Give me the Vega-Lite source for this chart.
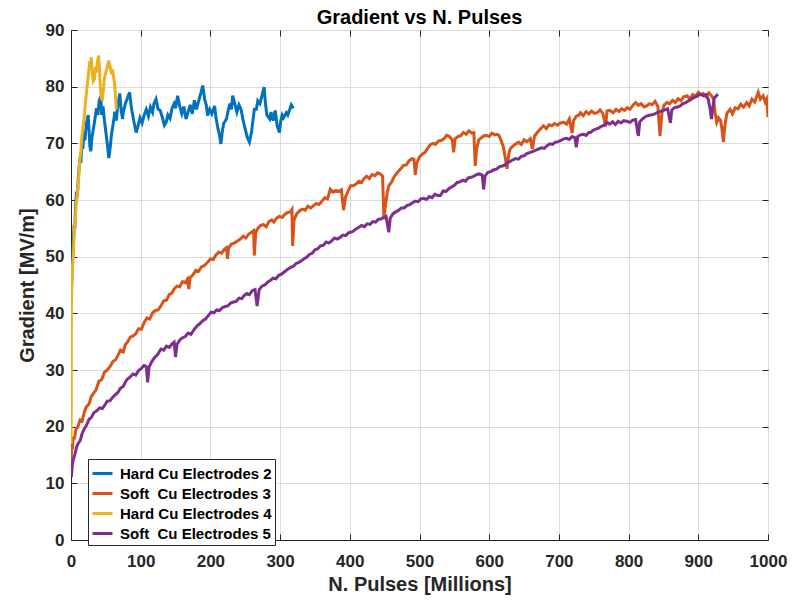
{
  "$schema": "https://vega.github.io/schema/vega-lite/v6.json",
  "width": 697,
  "height": 510,
  "autosize": {"type": "none"},
  "padding": {"left": 71, "top": 30, "right": 34, "bottom": 60},
  "background": "white",
  "title": {"text": "Gradient vs N. Pulses", "fontSize": 20, "font": "Liberation Sans", "fontWeight": "bold", "color": "#000000", "offset": 7, "dy": 14},
  "config": {
    "font": "Liberation Sans",
    "view": {"stroke": "#262626", "strokeWidth": 1},
    "axis": {
      "labelFont": "Liberation Sans", "labelFontSize": 17, "labelFontWeight": "bold", "labelColor": "#262626", "labelFlush": false,
      "titleFont": "Liberation Sans", "titleFontSize": 20, "titleFontWeight": "bold", "titleColor": "#262626",
      "domainColor": "#262626", "tickColor": "#262626", "tickSize": -6, "gridColor": "#dcdcdc", "gridOpacity": 1
    },
    "legend": {
      "orient": "none", "legendX": 17, "legendY": 429, "strokeColor": "#262626", "fillColor": "white",
      "padding": 3, "labelFont": "Liberation Sans", "labelFontSize": 15, "labelFontWeight": "bold", "labelColor": "#000000",
      "symbolType": "stroke", "symbolSize": 400, "symbolStrokeWidth": 3, "rowPadding": 0, "labelOffset": 6, "cornerRadius": 0
    }
  },
  "datasets": {
    "hard2": [
      {"x":0,"y":44},{"x":0.4,"y":45.5},{"x":0.8,"y":44.5},{"x":1.5,"y":48},{"x":2.5,"y":51},{"x":3.5,"y":53},{"x":4.6,"y":55.6},{"x":5.5,"y":55},{"x":6.5,"y":59},{"x":7.9,"y":61.5},{"x":9,"y":60.5},{"x":10.5,"y":64},{"x":12.8,"y":67.4},{"x":14,"y":66.5},{"x":15.6,"y":69.8},{"x":17,"y":69},{"x":18.5,"y":72},{"x":20,"y":70.5},{"x":22,"y":73.5},{"x":24.7,"y":75},{"x":26,"y":72},{"x":27,"y":69.5},{"x":28.4,"y":68.6},{"x":30,"y":71},{"x":32,"y":72.5},{"x":34,"y":74},{"x":36.6,"y":76.2},{"x":38.5,"y":75},{"x":40.5,"y":77.5},{"x":42.8,"y":78.3},{"x":44,"y":75},{"x":46,"y":76.5},{"x":48,"y":74},{"x":50,"y":72},{"x":52,"y":70},{"x":54.3,"y":67.4},{"x":56,"y":69},{"x":58,"y":71.5},{"x":60,"y":73},{"x":63,"y":75.6},{"x":65,"y":74},{"x":67,"y":76.5},{"x":70,"y":78.8},{"x":72,"y":75.8},{"x":74,"y":74.3},{"x":75,"y":75.5},{"x":78,"y":77},{"x":81,"y":78},{"x":84,"y":79},{"x":87,"y":76},{"x":90,"y":74},{"x":93.5,"y":71.9},{"x":96,"y":73},{"x":99,"y":74.5},{"x":102,"y":73.6},{"x":105,"y":75},{"x":108,"y":76},{"x":111,"y":74.8},{"x":114,"y":76.4},{"x":117,"y":75.5},{"x":119,"y":77},{"x":122,"y":77.8},{"x":125,"y":76},{"x":128,"y":75.8},{"x":131,"y":74.6},{"x":134,"y":73.2},{"x":136.5,"y":73.7},{"x":139,"y":75},{"x":142,"y":74.4},{"x":145,"y":76.2},{"x":148,"y":77},{"x":150,"y":76.2},{"x":153,"y":78.4},{"x":156,"y":76.5},{"x":159,"y":75.2},{"x":162,"y":76.5},{"x":165,"y":74.3},{"x":168,"y":75.5},{"x":171,"y":76.8},{"x":174,"y":75.2},{"x":177,"y":77.6},{"x":180,"y":76},{"x":183,"y":77.4},{"x":186,"y":78.7},{"x":189,"y":80.2},{"x":192,"y":77.6},{"x":194,"y":76.8},{"x":196,"y":74.9},{"x":199,"y":76},{"x":202,"y":75.2},{"x":206,"y":76.6},{"x":208,"y":74.5},{"x":211,"y":72.5},{"x":213,"y":71.5},{"x":215,"y":69.9},{"x":217,"y":72},{"x":219,"y":73.5},{"x":223,"y":74.3},{"x":225,"y":75.5},{"x":228,"y":77},{"x":230,"y":76},{"x":232,"y":78.4},{"x":235,"y":77},{"x":238,"y":75.5},{"x":241,"y":76.8},{"x":244,"y":76},{"x":247,"y":74},{"x":250,"y":72.5},{"x":253,"y":71},{"x":256,"y":70.2},{"x":259,"y":72},{"x":261,"y":74},{"x":263,"y":76},{"x":266,"y":76},{"x":268,"y":77.5},{"x":271,"y":77},{"x":274,"y":78.4},{"x":277,"y":79.9},{"x":279,"y":77},{"x":281,"y":75},{"x":285,"y":74.3},{"x":287,"y":75.5},{"x":290,"y":74},{"x":293,"y":75.8},{"x":296,"y":73},{"x":299,"y":71.9},{"x":301,"y":74},{"x":303,"y":75},{"x":305,"y":74.5},{"x":309,"y":75.4},{"x":311,"y":75},{"x":314,"y":76},{"x":316,"y":76.8},{"x":319,"y":76.2}
    ],
    "soft3": [
      {"x":0,"y":12.4},{"x":0.5,"y":15},{"x":1,"y":16.5},{"x":2,"y":16},{"x":3,"y":18},{"x":5,"y":18},{"x":7,"y":19.5},{"x":10,"y":20},{"x":13,"y":21.2},{"x":16,"y":21},{"x":19,"y":22.5},{"x":22,"y":23.5},{"x":26,"y":24},{"x":29,"y":25.3},{"x":33,"y":26},{"x":36,"y":26.5},{"x":40,"y":28},{"x":44,"y":28.3},{"x":48,"y":29.6},{"x":52,"y":30},{"x":56,"y":30.6},{"x":60,"y":31.5},{"x":64,"y":31.8},{"x":67,"y":32.5},{"x":71,"y":33.5},{"x":75,"y":33.2},{"x":78,"y":34.5},{"x":81,"y":34.9},{"x":85,"y":35.8},{"x":89,"y":36},{"x":93,"y":36.4},{"x":97,"y":37.3},{"x":101,"y":37.2},{"x":105,"y":38.4},{"x":109,"y":39.2},{"x":113,"y":39},{"x":117,"y":40.1},{"x":121,"y":40.5},{"x":125,"y":40.6},{"x":129,"y":41.3},{"x":133,"y":42.2},{"x":137,"y":42.3},{"x":141,"y":43.3},{"x":145,"y":43.6},{"x":148,"y":44.3},{"x":152,"y":44.8},{"x":156,"y":44.7},{"x":160,"y":45.6},{"x":164,"y":45.4},{"x":167,"y":46},{"x":169,"y":44.3},{"x":171,"y":46.3},{"x":175,"y":46.8},{"x":179,"y":47.6},{"x":183,"y":47.4},{"x":187,"y":48.2},{"x":191,"y":48.4},{"x":196,"y":49},{"x":200,"y":49.6},{"x":204,"y":49.5},{"x":208,"y":50.3},{"x":212,"y":50.8},{"x":216,"y":50.6},{"x":220,"y":51.3},{"x":223,"y":51.6},{"x":224.5,"y":49.6},{"x":226,"y":51.5},{"x":230,"y":52.2},{"x":234,"y":52.4},{"x":238,"y":52.7},{"x":243,"y":53.1},{"x":247,"y":53.6},{"x":251,"y":53.3},{"x":255,"y":54},{"x":259,"y":54.3},{"x":262,"y":54.6},{"x":263,"y":50.2},{"x":265,"y":54.2},{"x":268,"y":55},{"x":272,"y":55.5},{"x":276,"y":55.7},{"x":280,"y":55.3},{"x":284,"y":56.2},{"x":288,"y":56.5},{"x":291,"y":56.1},{"x":295,"y":56.8},{"x":299,"y":57.1},{"x":303,"y":56.9},{"x":307,"y":57.5},{"x":311,"y":57.8},{"x":315,"y":57.9},{"x":317,"y":58.3},{"x":318,"y":51.9},{"x":320,"y":56.5},{"x":324,"y":57.6},{"x":328,"y":58.1},{"x":332,"y":58.4},{"x":336,"y":58.2},{"x":340,"y":58.9},{"x":344,"y":58.6},{"x":348,"y":59},{"x":352,"y":59.4},{"x":356,"y":59.2},{"x":360,"y":59.8},{"x":364,"y":60.4},{"x":368,"y":60.2},{"x":372,"y":61.9},{"x":376,"y":61.4},{"x":380,"y":61.7},{"x":384,"y":61.5},{"x":388,"y":61.8},{"x":391,"y":58.2},{"x":394,"y":60.6},{"x":398,"y":61.7},{"x":401,"y":62.5},{"x":405,"y":62.5},{"x":409,"y":62.8},{"x":413,"y":63.3},{"x":417,"y":63.1},{"x":420,"y":63.7},{"x":424,"y":64.2},{"x":428,"y":63.8},{"x":432,"y":64.5},{"x":436,"y":64.3},{"x":440,"y":64.8},{"x":444,"y":64.6},{"x":447,"y":64.2},{"x":449,"y":56.6},{"x":451,"y":59},{"x":454,"y":61.5},{"x":456,"y":62.5},{"x":460,"y":63.2},{"x":464,"y":64.2},{"x":468,"y":64.8},{"x":473,"y":65.5},{"x":477,"y":66.1},{"x":481,"y":66.2},{"x":485,"y":66.9},{"x":489,"y":67.3},{"x":492,"y":67.2},{"x":494,"y":64.4},{"x":496,"y":66.5},{"x":500,"y":67.6},{"x":504,"y":68.1},{"x":508,"y":68.4},{"x":511,"y":69},{"x":515,"y":69.7},{"x":519,"y":70},{"x":523,"y":69.8},{"x":527,"y":70.4},{"x":531,"y":70.5},{"x":535,"y":70.8},{"x":539,"y":71.4},{"x":543,"y":71.2},{"x":547,"y":70.6},{"x":549,"y":68.4},{"x":551,"y":70.8},{"x":555,"y":71.2},{"x":559,"y":71.3},{"x":563,"y":71.9},{"x":567,"y":71.6},{"x":571,"y":72.2},{"x":575,"y":71.8},{"x":578,"y":71.9},{"x":580,"y":66},{"x":582,"y":69},{"x":585,"y":70.6},{"x":589,"y":71},{"x":592,"y":71.3},{"x":596,"y":71.4},{"x":600,"y":71.2},{"x":604,"y":71.8},{"x":608,"y":71.5},{"x":611,"y":71.6},{"x":614,"y":71.4},{"x":616,"y":70.8},{"x":620,"y":69.5},{"x":623,"y":67.5},{"x":625.6,"y":65.5},{"x":628,"y":68},{"x":630,"y":69},{"x":634,"y":69.5},{"x":638,"y":69.9},{"x":642,"y":70.2},{"x":646,"y":69.8},{"x":650,"y":70.6},{"x":654,"y":70.3},{"x":659,"y":70.8},{"x":662,"y":69},{"x":665,"y":71.3},{"x":669,"y":71.9},{"x":673,"y":72.5},{"x":678,"y":73.1},{"x":682,"y":72.6},{"x":686,"y":73.3},{"x":690,"y":73.1},{"x":694,"y":73.5},{"x":698,"y":73.2},{"x":702,"y":73.6},{"x":707,"y":73.7},{"x":711,"y":73.4},{"x":715,"y":74.3},{"x":719,"y":71.8},{"x":721,"y":74},{"x":725,"y":74.8},{"x":729,"y":75},{"x":731,"y":75.4},{"x":735,"y":74.9},{"x":739,"y":75.6},{"x":743,"y":75.2},{"x":747,"y":75.7},{"x":751,"y":75.3},{"x":755,"y":75.4},{"x":759,"y":75.9},{"x":763,"y":75.3},{"x":767,"y":73},{"x":769,"y":75.7},{"x":773,"y":75.8},{"x":778,"y":75.4},{"x":782,"y":76},{"x":786,"y":75.6},{"x":790,"y":76.1},{"x":794,"y":75.8},{"x":798,"y":76.3},{"x":802,"y":76},{"x":806,"y":76.7},{"x":810,"y":77.2},{"x":814,"y":76.7},{"x":818,"y":77},{"x":822,"y":76.4},{"x":826,"y":76.6},{"x":830,"y":77},{"x":834,"y":76.8},{"x":838,"y":77.4},{"x":842,"y":76.5},{"x":845,"y":71.3},{"x":848,"y":75.5},{"x":851,"y":76.8},{"x":855,"y":77.2},{"x":859,"y":77},{"x":863,"y":77.6},{"x":867,"y":77.2},{"x":871,"y":77.9},{"x":875,"y":77.5},{"x":879,"y":78.2},{"x":884,"y":78.4},{"x":888,"y":77.8},{"x":892,"y":78.6},{"x":896,"y":78.3},{"x":900,"y":79},{"x":903,"y":78.6},{"x":907,"y":78.8},{"x":911,"y":78.2},{"x":915,"y":78.9},{"x":919,"y":78.4},{"x":922,"y":77.8},{"x":924,"y":75.5},{"x":926.5,"y":73.7},{"x":929,"y":74.5},{"x":932,"y":74},{"x":934,"y":72.5},{"x":936,"y":70.2},{"x":938,"y":73},{"x":941,"y":75.3},{"x":945.6,"y":76},{"x":949,"y":75.2},{"x":953,"y":76.3},{"x":957,"y":76.1},{"x":961,"y":76.9},{"x":965,"y":76.4},{"x":969.5,"y":77.2},{"x":973,"y":76.6},{"x":977,"y":77.8},{"x":981,"y":77.3},{"x":986,"y":79},{"x":989,"y":77.8},{"x":993,"y":78.4},{"x":996,"y":77.3},{"x":998,"y":77.8},{"x":999,"y":76.5},{"x":1000,"y":74.6}
    ],
    "hard4": [
      {"x":0,"y":17},{"x":0.2,"y":19},{"x":0.4,"y":25},{"x":0.5,"y":35},{"x":0.6,"y":41.5},{"x":1,"y":44},{"x":1.5,"y":46},{"x":2.2,"y":48.5},{"x":3.3,"y":49.7},{"x":4.2,"y":53},{"x":5.5,"y":55.6},{"x":6.5,"y":57},{"x":7.5,"y":59.5},{"x":9.5,"y":61.5},{"x":11,"y":64},{"x":12.8,"y":67.4},{"x":14,"y":68.5},{"x":15.5,"y":71},{"x":17.5,"y":73.2},{"x":19,"y":74.5},{"x":20.5,"y":77},{"x":22.4,"y":79.1},{"x":24,"y":81},{"x":25.5,"y":82.8},{"x":27,"y":84.5},{"x":28,"y":83},{"x":29,"y":85.2},{"x":30.5,"y":82.5},{"x":32,"y":81},{"x":33.5,"y":81.3},{"x":35,"y":83.5},{"x":36.5,"y":82.5},{"x":38,"y":84.5},{"x":39.5,"y":85.5},{"x":41,"y":83},{"x":42,"y":80},{"x":43.3,"y":78.4},{"x":44.7,"y":77.5},{"x":46.5,"y":79.5},{"x":48,"y":81.5},{"x":50,"y":82.5},{"x":52,"y":83.5},{"x":54,"y":84.6},{"x":56,"y":83.5},{"x":58,"y":82.5},{"x":60,"y":82.7},{"x":62,"y":81},{"x":63.5,"y":79},{"x":65,"y":76}
    ],
    "soft5": [
      {"x":0,"y":12},{"x":1,"y":11.8},{"x":2,"y":13.5},{"x":4,"y":14.5},{"x":6,"y":15.3},{"x":8,"y":16.4},{"x":10,"y":17},{"x":13,"y":17.5},{"x":16,"y":18.8},{"x":19,"y":19.6},{"x":22,"y":20.2},{"x":26,"y":21.3},{"x":29,"y":21.6},{"x":33,"y":22.5},{"x":37,"y":22.8},{"x":41,"y":23.3},{"x":45,"y":23.2},{"x":48,"y":23.7},{"x":52,"y":24.5},{"x":56,"y":24.6},{"x":60,"y":25.2},{"x":64,"y":25.7},{"x":67,"y":26},{"x":71,"y":26.8},{"x":75,"y":27.1},{"x":78,"y":27.9},{"x":81,"y":28.4},{"x":85,"y":28.8},{"x":89,"y":29.3},{"x":93,"y":29.1},{"x":97,"y":29.9},{"x":101,"y":30.3},{"x":105,"y":30.8},{"x":108,"y":30.6},{"x":110,"y":27.8},{"x":112,"y":30.5},{"x":116,"y":31.5},{"x":120,"y":32.2},{"x":124,"y":32.7},{"x":129,"y":33.7},{"x":133,"y":33.5},{"x":137,"y":34.2},{"x":141,"y":34},{"x":145,"y":34.6},{"x":148,"y":34.9},{"x":150,"y":32.3},{"x":152,"y":34.5},{"x":156,"y":35.3},{"x":160,"y":35.7},{"x":164,"y":35.9},{"x":168,"y":36.5},{"x":172,"y":36.3},{"x":177,"y":37.2},{"x":181,"y":37.8},{"x":185,"y":38.2},{"x":189,"y":38.7},{"x":193,"y":39},{"x":197,"y":39.6},{"x":201,"y":40.2},{"x":205,"y":40.1},{"x":209,"y":40.6},{"x":213,"y":40.5},{"x":217,"y":41},{"x":221,"y":41.2},{"x":225,"y":41.3},{"x":229,"y":41.8},{"x":233,"y":42},{"x":237,"y":42.1},{"x":241,"y":42.7},{"x":245,"y":42.6},{"x":248,"y":43.1},{"x":252,"y":43.5},{"x":256,"y":43.3},{"x":260,"y":44},{"x":264,"y":44.2},{"x":267,"y":41.3},{"x":270,"y":44.2},{"x":274,"y":44.8},{"x":278,"y":45},{"x":282,"y":45.5},{"x":286,"y":45.8},{"x":290,"y":46.2},{"x":294,"y":46.1},{"x":298,"y":46.7},{"x":302,"y":46.9},{"x":306,"y":47.3},{"x":311,"y":47.8},{"x":315,"y":48.1},{"x":319,"y":48.3},{"x":323,"y":48.8},{"x":327,"y":49},{"x":331,"y":49.3},{"x":334,"y":49.6},{"x":338,"y":49.9},{"x":342,"y":50.4},{"x":346,"y":50.6},{"x":350,"y":51.2},{"x":354,"y":51.4},{"x":358,"y":51.9},{"x":362,"y":52},{"x":366,"y":52.6},{"x":370,"y":52.4},{"x":374,"y":52.8},{"x":378,"y":53.3},{"x":382,"y":53.1},{"x":386,"y":53.4},{"x":390,"y":53.8},{"x":394,"y":53.7},{"x":398,"y":54.2},{"x":401,"y":54.3},{"x":405,"y":54.5},{"x":409,"y":54.9},{"x":413,"y":55.2},{"x":417,"y":55.5},{"x":421,"y":55.3},{"x":425,"y":55.8},{"x":429,"y":55.7},{"x":433,"y":56.2},{"x":437,"y":56.1},{"x":441,"y":56.6},{"x":444,"y":56.6},{"x":448,"y":56.9},{"x":452,"y":57.1},{"x":456,"y":54.3},{"x":458,"y":56.8},{"x":462,"y":57.6},{"x":466,"y":57.9},{"x":470,"y":58.2},{"x":474,"y":58.6},{"x":478,"y":58.6},{"x":482,"y":59},{"x":486,"y":59.2},{"x":490,"y":59.5},{"x":494,"y":59.8},{"x":498,"y":59.7},{"x":502,"y":60.2},{"x":506,"y":60.3},{"x":510,"y":60.1},{"x":514,"y":60.6},{"x":518,"y":60.4},{"x":522,"y":61},{"x":526,"y":60.8},{"x":530,"y":60.8},{"x":534,"y":61.6},{"x":538,"y":61.5},{"x":542,"y":62},{"x":546,"y":62.3},{"x":550,"y":62.6},{"x":554,"y":63.1},{"x":558,"y":63.2},{"x":562,"y":63.5},{"x":566,"y":63.3},{"x":570,"y":63.9},{"x":574,"y":64},{"x":578,"y":64.2},{"x":582,"y":64.5},{"x":586,"y":64.6},{"x":590,"y":64.4},{"x":592,"y":61.9},{"x":594,"y":64.2},{"x":598,"y":64.9},{"x":602,"y":65},{"x":606,"y":65.3},{"x":611,"y":65.5},{"x":615,"y":65.9},{"x":619,"y":66},{"x":623,"y":66.2},{"x":626,"y":66.6},{"x":630,"y":66.8},{"x":634,"y":67.1},{"x":638,"y":67.3},{"x":642,"y":67.2},{"x":646,"y":67.7},{"x":650,"y":67.8},{"x":654,"y":68.2},{"x":659,"y":68.4},{"x":663,"y":68.6},{"x":667,"y":68.8},{"x":671,"y":69},{"x":675,"y":69.2},{"x":679,"y":69.1},{"x":683,"y":69.6},{"x":687,"y":69.9},{"x":691,"y":69.8},{"x":695,"y":70.2},{"x":699,"y":70.3},{"x":703,"y":70.5},{"x":707,"y":70.8},{"x":711,"y":70.9},{"x":715,"y":70.7},{"x":719,"y":71.2},{"x":723,"y":71},{"x":725,"y":69.3},{"x":727,"y":71.2},{"x":731,"y":71.5},{"x":735,"y":71.6},{"x":739,"y":71.4},{"x":743,"y":71.9},{"x":745,"y":71.9},{"x":749,"y":72.3},{"x":753,"y":72.5},{"x":757,"y":72.7},{"x":761,"y":73},{"x":765,"y":73.2},{"x":769,"y":73.7},{"x":773,"y":73.4},{"x":777,"y":73.8},{"x":781,"y":73.3},{"x":785,"y":73.9},{"x":789,"y":73.6},{"x":793,"y":74},{"x":797,"y":73.9},{"x":802,"y":73.7},{"x":806,"y":74.1},{"x":810,"y":74.2},{"x":814,"y":71.3},{"x":816,"y":73.8},{"x":820,"y":74.3},{"x":824,"y":74.7},{"x":828,"y":74.9},{"x":832,"y":75},{"x":836,"y":75.1},{"x":840.5,"y":75.4},{"x":844,"y":75.6},{"x":848,"y":75.7},{"x":852,"y":75.9},{"x":856,"y":76.1},{"x":860,"y":73.6},{"x":862,"y":75.9},{"x":866,"y":76.3},{"x":870,"y":76.4},{"x":874,"y":76.6},{"x":878,"y":77},{"x":882,"y":77.2},{"x":886,"y":77.5},{"x":890,"y":77.8},{"x":894,"y":78.1},{"x":898,"y":78.3},{"x":903,"y":78.7},{"x":907,"y":78.4},{"x":911,"y":78.6},{"x":914,"y":77.9},{"x":917,"y":76},{"x":919,"y":74.3},{"x":921,"y":76.5},{"x":923,"y":78},{"x":926,"y":78.4},{"x":928,"y":78.7}
    ]
  },
  "layer": [
    {
      "data": {"name": "hard2"},
      "mark": {"type": "line", "strokeWidth": 3, "clip": true},
      "encoding": {
        "x": {"field": "x", "type": "quantitative", "scale": {"domain": [0, 1000], "nice": false},
              "axis": {"values": [0,100,200,300,400,500,600,700,800,900,1000], "format": "d", "title": "N. Pulses [Millions]", "grid": true, "labelPadding": 19, "titlePadding": 5}},
        "y": {"field": "y", "type": "quantitative", "scale": {"domain": [0, 90], "nice": false},
              "axis": {"values": [0,10,20,30,40,50,60,70,80,90], "format": "d", "title": "Gradient [MV/m]", "grid": true, "labelPadding": 13, "titlePadding": 8}},
        "color": {"datum": "Hard Cu Electrodes 2", "type": "nominal",
                  "scale": {"domain": ["Hard Cu Electrodes 2", "Soft\u00a0 Cu Electrodes 3", "Hard Cu Electrodes 4", "Soft\u00a0 Cu Electrodes 5"],
                            "range": ["#0072BD", "#D95319", "#EDB120", "#7E2F8E"]},
                  "legend": {"title": null}}
      }
    },
    {
      "data": {"name": "soft3"},
      "mark": {"type": "line", "strokeWidth": 3, "clip": true},
      "encoding": {
        "x": {"field": "x", "type": "quantitative", "axis": {"orient": "top", "values": [0,100,200,300,400,500,600,700,800,900,1000], "labels": false, "domain": false, "grid": false, "title": null}},
        "y": {"field": "y", "type": "quantitative", "axis": {"orient": "right", "values": [0,10,20,30,40,50,60,70,80,90], "labels": false, "domain": false, "grid": false, "title": null}},
        "color": {"datum": "Soft\u00a0 Cu Electrodes 3", "type": "nominal"}
      }
    },
    {
      "data": {"name": "hard4"},
      "mark": {"type": "line", "strokeWidth": 3, "clip": true},
      "encoding": {
        "x": {"field": "x", "type": "quantitative", "axis": null},
        "y": {"field": "y", "type": "quantitative", "axis": null},
        "color": {"datum": "Hard Cu Electrodes 4", "type": "nominal"}
      }
    },
    {
      "data": {"name": "soft5"},
      "mark": {"type": "line", "strokeWidth": 3, "clip": true},
      "encoding": {
        "x": {"field": "x", "type": "quantitative", "axis": null},
        "y": {"field": "y", "type": "quantitative", "axis": null},
        "color": {"datum": "Soft\u00a0 Cu Electrodes 5", "type": "nominal"}
      }
    }
  ],
  "resolve": {"axis": {"x": "independent", "y": "independent"}}
}
